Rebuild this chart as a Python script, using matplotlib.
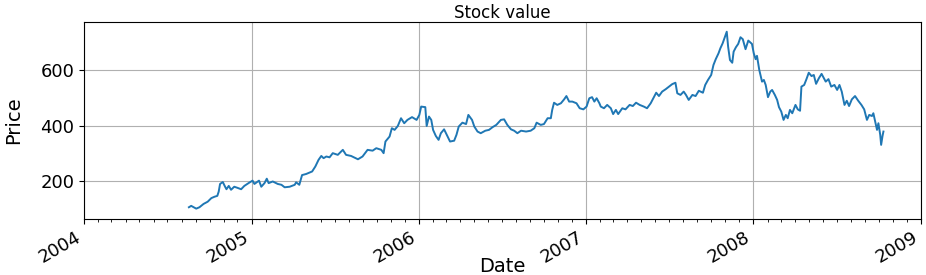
import numpy as np
import matplotlib
matplotlib.use("Agg")
import matplotlib.pyplot as plt
import matplotlib.dates as mdates

# Price series
dates = [
    "2004-08-17", "2004-08-22", "2004-09-02", "2004-09-09", "2004-09-18",
    "2004-09-27", "2004-10-05", "2004-10-12", "2004-10-18", "2004-10-21",
    "2004-10-24", "2004-10-30", "2004-11-04", "2004-11-07", "2004-11-12",
    "2004-11-17", "2004-11-24", "2004-12-01", "2004-12-09", "2004-12-16",
    "2004-12-27", "2005-01-03", "2005-01-07", "2005-01-17", "2005-01-22",
    "2005-01-29", "2005-02-03", "2005-02-07", "2005-02-16", "2005-02-27",
    "2005-03-07", "2005-03-14", "2005-03-25", "2005-04-05", "2005-04-08",
    "2005-04-15", "2005-04-21", "2005-04-30", "2005-05-13", "2005-05-20",
    "2005-05-27", "2005-06-02", "2005-06-07", "2005-06-13", "2005-06-20",
    "2005-06-27", "2005-07-08", "2005-07-19", "2005-07-26", "2005-08-06",
    "2005-08-21", "2005-08-31", "2005-09-11", "2005-09-22", "2005-09-30",
    "2005-10-11", "2005-10-16", "2005-10-20", "2005-10-29", "2005-11-03",
    "2005-11-09", "2005-11-16", "2005-11-23", "2005-11-30", "2005-12-07",
    "2005-12-17", "2005-12-27", "2006-01-02", "2006-01-06", "2006-01-15",
    "2006-01-18", "2006-01-23", "2006-01-28", "2006-02-01", "2006-02-07",
    "2006-02-13", "2006-02-18", "2006-02-25", "2006-03-03", "2006-03-10",
    "2006-03-19", "2006-03-24", "2006-03-29", "2006-04-06", "2006-04-14",
    "2006-04-19", "2006-04-27", "2006-05-02", "2006-05-09", "2006-05-16",
    "2006-05-26", "2006-06-03", "2006-06-11", "2006-06-19", "2006-06-29",
    "2006-07-06", "2006-07-13", "2006-07-21", "2006-07-28", "2006-08-04",
    "2006-08-12", "2006-08-23", "2006-09-02", "2006-09-10", "2006-09-15",
    "2006-09-24", "2006-10-01", "2006-10-09", "2006-10-16", "2006-10-19",
    "2006-10-23", "2006-10-30", "2006-11-07", "2006-11-14", "2006-11-19",
    "2006-11-25", "2006-12-02", "2006-12-11", "2006-12-18", "2006-12-26",
    "2007-01-02", "2007-01-08", "2007-01-14", "2007-01-19", "2007-01-24",
    "2007-01-30", "2007-02-02", "2007-02-09", "2007-02-16", "2007-02-24",
    "2007-03-01", "2007-03-07", "2007-03-12", "2007-03-21", "2007-03-28",
    "2007-04-06", "2007-04-13", "2007-04-20", "2007-04-28", "2007-05-07",
    "2007-05-14", "2007-05-22", "2007-05-29", "2007-06-03", "2007-06-09",
    "2007-06-16", "2007-06-24", "2007-07-01", "2007-07-08", "2007-07-15",
    "2007-07-19", "2007-07-26", "2007-08-02", "2007-08-07", "2007-08-13",
    "2007-08-21", "2007-08-28", "2007-09-04", "2007-09-13", "2007-09-18",
    "2007-09-24", "2007-10-01", "2007-10-06", "2007-10-11", "2007-10-17",
    "2007-10-21", "2007-10-26", "2007-10-31", "2007-11-04", "2007-11-07",
    "2007-11-11", "2007-11-16", "2007-11-19", "2007-11-24", "2007-11-29",
    "2007-12-04", "2007-12-09", "2007-12-15", "2007-12-21", "2007-12-29",
    "2008-01-02", "2008-01-06", "2008-01-09", "2008-01-14", "2008-01-20",
    "2008-01-24", "2008-01-28", "2008-02-02", "2008-02-07", "2008-02-11",
    "2008-02-17", "2008-02-22", "2008-02-26", "2008-03-02", "2008-03-07",
    "2008-03-12", "2008-03-16", "2008-03-21", "2008-03-26", "2008-04-02",
    "2008-04-07", "2008-04-12", "2008-04-15", "2008-04-21", "2008-04-26",
    "2008-05-01", "2008-05-07", "2008-05-12", "2008-05-17", "2008-05-23",
    "2008-05-29", "2008-06-03", "2008-06-07", "2008-06-13", "2008-06-19",
    "2008-06-26", "2008-07-02", "2008-07-07", "2008-07-12", "2008-07-18",
    "2008-07-23", "2008-07-28", "2008-08-03", "2008-08-10", "2008-08-17",
    "2008-08-24", "2008-08-30", "2008-09-05", "2008-09-10", "2008-09-16",
    "2008-09-19", "2008-09-23", "2008-09-27", "2008-09-30", "2008-10-04",
    "2008-10-06", "2008-10-09", "2008-10-11",
]
prices = [
    106, 111, 101, 106, 118, 126, 139, 144, 147, 162,
    190, 197, 180, 171, 183, 169, 180, 176, 171, 183,
    195, 202, 190, 202, 180, 193, 209, 193, 199, 190,
    187, 178, 180, 187, 196, 187, 222, 226, 235, 253,
    277, 291, 283, 289, 286, 301, 295, 313, 295, 291,
    279, 289, 313, 310, 319, 313, 301, 343, 361, 391,
    385, 399, 427, 409, 421, 431, 421, 439, 469, 467,
    399, 433, 421, 385, 363, 349, 373, 387, 367, 343,
    346, 367, 397, 411, 406, 439, 421, 397, 379, 373,
    382, 385, 395, 403, 421, 423, 403, 387, 382, 373,
    382, 379, 382, 391, 411, 403, 406, 427, 427, 457,
    483, 475, 481, 495, 507, 487, 487, 481, 463, 459,
    469, 499, 503, 487, 499, 481, 469, 463, 475, 463,
    442, 457, 442, 463, 459, 475, 471, 483, 475, 469,
    463, 481, 503, 519, 507, 523, 532, 541, 550, 555,
    517, 511, 523, 511, 493, 511, 507, 526, 519, 547,
    565, 583, 619, 640, 661, 679, 697, 721, 739, 685,
    637, 627, 667, 683, 695, 719, 712, 676, 707, 695,
    661, 640, 652, 601, 559, 565, 547, 503, 523, 529,
    511, 493, 467, 451, 421, 439, 427, 457, 445, 475,
    459, 454, 541, 547, 568, 591, 579, 583, 551, 571,
    587, 571, 559, 568, 541, 547, 529, 547, 523, 475,
    490, 471, 495, 507, 490, 475, 459, 421, 439, 435,
    445, 415, 385, 409, 367, 331, 363, 379,
]

x = np.array(dates, dtype="datetime64[D]")
y = np.array(prices)

fig = plt.figure(figsize=(9.26, 2.75), dpi=100)
ax = fig.add_axes([0.0907, 0.205, 0.9039, 0.714])
ax.plot(x, y, color="tab:blue", lw=1.4)

ax.set_xlim(np.datetime64("2004-01-01"), np.datetime64("2009-01-01"))
ax.set_ylim(65, 773)
ax.xaxis.set_major_locator(mdates.YearLocator())
ax.xaxis.set_major_formatter(mdates.DateFormatter("%Y"))
ax.xaxis.set_minor_locator(mdates.MonthLocator())
ax.set_yticks([200, 400, 600])
ax.tick_params(labelsize=13)
for lab in ax.get_xticklabels():
    lab.set_rotation(30)
    lab.set_ha("right")
ax.grid(True, color="#b0b0b0", lw=0.8)

ax.set_title("Stock value", fontsize=12, pad=3)
ax.set_xlabel("Date", fontsize=14, labelpad=-7)
ax.set_ylabel("Price", fontsize=14, labelpad=12)

fig.savefig("out.png", dpi=100)
